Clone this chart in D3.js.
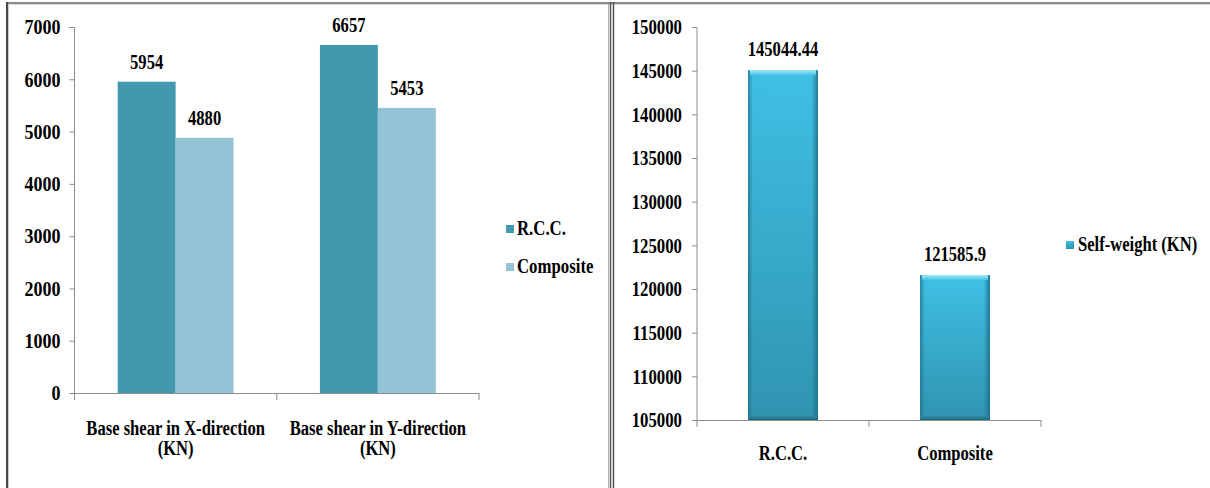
<!DOCTYPE html>
<html><head><meta charset="utf-8">
<script src="https://cdn.jsdelivr.net/npm/d3@7"></script>
<style>
html,body{margin:0;padding:0;background:#fff;}
svg{display:block;}
text{font-family:"Liberation Serif","Times New Roman",serif;font-weight:bold;fill:#000;}
</style></head>
<body>
<svg id="chart" width="1210" height="488"></svg>
<script>
// ---- data ----
const shearCategories = [["Base shear in X-direction","(KN)"],["Base shear in Y-direction","(KN)"]];
const shearSeries = ["R.C.C.","Composite"];
const shearRCC = [5954, 6657];
const shearComposite = [4880, 5453];
const shearTicks = [0,1000,2000,3000,4000,5000,6000,7000];

const weightCategories = ["R.C.C.","Composite"];
const weightValues = [145044.44, 121585.9];
const weightLabels = ["145044.44","121585.9"];
const weightSeries = "Self-weight (KN)";
const weightTicks = [105000,110000,115000,120000,125000,130000,135000,140000,145000,150000];

const svg = d3.select("#chart");
const axisColor = "#8c8c8c";
const FS = 20;

// horizontally squeeze text (narrow Times look) via transform
function squeeze(sel, k){
  sel.each(function(){
    const el = d3.select(this);
    const x = +(el.attr("x") || 0);
    el.attr("x", x/k).attr("transform", "scale(" + k + ",1)");
    el.selectAll("tspan").each(function(){
      const t = d3.select(this);
      const tx = +(t.attr("x") || 0);
      t.attr("x", tx/k);
    });
  });
}

// ---- frames ----
svg.append("line").attr("x1",6).attr("x2",1210).attr("y1",3).attr("y2",3).attr("stroke","#8a8a8a").attr("stroke-width",2);
svg.append("line").attr("x1",6).attr("x2",1210).attr("y1",4.5).attr("y2",4.5).attr("stroke","#dcdcdc").attr("stroke-width",1);
svg.append("line").attr("x1",7).attr("x2",7).attr("y1",2).attr("y2",488).attr("stroke","#4a4a4a").attr("stroke-width",2);
svg.append("line").attr("x1",8.5).attr("x2",8.5).attr("y1",4).attr("y2",488).attr("stroke","#c8c8c8").attr("stroke-width",1);
svg.append("line").attr("x1",608.5).attr("x2",608.5).attr("y1",4).attr("y2",488).attr("stroke","#b0b0b0").attr("stroke-width",1);
svg.append("line").attr("x1",610.5).attr("x2",610.5).attr("y1",2).attr("y2",488).attr("stroke","#505050").attr("stroke-width",1.5);
svg.append("line").attr("x1",613.5).attr("x2",613.5).attr("y1",2).attr("y2",488).attr("stroke","#505050").attr("stroke-width",1.5);

// ---- left chart ----
(function(){
  const y = d3.scaleLinear().domain([0,7000]).range([393,27]);
  const x0 = d3.scaleBand().domain(d3.range(shearCategories.length)).range([74.5,479]).paddingInner(0).paddingOuter(0);
  const x1 = d3.scaleBand().domain(shearSeries).range([0,x0.bandwidth()]).paddingInner(0).paddingOuter(0.745);
  const colors = {"R.C.C.":"#4397ae","Composite":"#94c3d5"};
  const g = svg.append("g");

  // y axis
  const ya = d3.axisLeft(y).tickValues(shearTicks).tickSize(5).tickPadding(9).tickFormat(d3.format("d"));
  const yg = g.append("g").attr("transform","translate(74.5,0)").call(ya);
  yg.select(".domain").attr("stroke",axisColor).attr("d","M-5,27.5H0V393");
  yg.selectAll(".tick line").attr("stroke",axisColor);
  yg.selectAll(".tick text").attr("font-size",FS).attr("dy","0.34em").call(squeeze,0.9);

  // bars
  const rows = [shearRCC, shearComposite];
  shearSeries.forEach((s,si)=>{
    g.append("g").selectAll("rect").data(rows[si]).join("rect")
      .attr("x",(d,i)=>x0(i)+x1(s))
      .attr("width",x1.bandwidth())
      .attr("y",d=>y(d))
      .attr("height",d=>y(0)-y(d))
      .attr("fill",colors[s]);
    g.append("g").selectAll("text").data(rows[si]).join("text")
      .attr("x",(d,i)=>x0(i)+x1(s)+x1.bandwidth()/2)
      .attr("y",d=>y(d)-13)
      .attr("text-anchor","middle").attr("font-size",FS)
      .text(d=>d).call(squeeze,0.83);
  });

  // x axis
  const xg = g.append("g");
  xg.append("line").attr("x1",74.5).attr("x2",479).attr("y1",y(0)+0.5).attr("y2",y(0)+0.5).attr("stroke",axisColor);
  const bounds = d3.range(shearCategories.length+1).map(i=> i<shearCategories.length ? x0(i) : x0(i-1)+x0.bandwidth());
  xg.selectAll("line.tk").data(bounds).join("line").attr("class","tk")
    .attr("x1",d=>d).attr("x2",d=>d).attr("y1",y(0)).attr("y2",y(0)+7).attr("stroke",axisColor);
  shearCategories.forEach((lines,i)=>{
    const t = xg.append("text").attr("text-anchor","middle").attr("font-size",FS);
    lines.forEach((ln,j)=>{
      t.append("tspan").attr("x",x0(i)+x0.bandwidth()/2).attr("y",435+j*20).text(ln);
    });
    t.call(squeeze,0.83);
  });

  // legend
  const lg = g.append("g").attr("transform","translate(506,0)");
  shearSeries.forEach((s,i)=>{
    const cy = 229 + i*38;
    lg.append("rect").attr("x",0).attr("y",cy-4).attr("width",8).attr("height",8).attr("fill",colors[s]);
    lg.append("text").attr("x",11).attr("y",cy+6.5).attr("font-size",FS).text(s).call(squeeze,0.84);
  });
})();

// ---- right chart ----
(function(){
  const y = d3.scaleLinear().domain([105000,150000]).range([420,27]);
  const x = d3.scaleBand().domain(weightCategories).range([697,1041]).paddingInner(0.593).paddingOuter(0.2965);
  const g = svg.append("g");
  const defs = svg.append("defs");
  const vg = defs.append("linearGradient").attr("id","vgrad").attr("x1",0).attr("x2",0).attr("y1",0).attr("y2",1);
  vg.append("stop").attr("offset","0%").attr("stop-color","#3fc0e5");
  vg.append("stop").attr("offset","100%").attr("stop-color","#3094b0");
  const hg = defs.append("linearGradient").attr("id","hgrad").attr("x1",0).attr("x2",1).attr("y1",0).attr("y2",0);
  hg.append("stop").attr("offset","0%").attr("stop-color","#1d6c84").attr("stop-opacity",0.7);
  hg.append("stop").attr("offset","7%").attr("stop-color","#1d6c84").attr("stop-opacity",0);
  hg.append("stop").attr("offset","91%").attr("stop-color","#1d6c84").attr("stop-opacity",0);
  hg.append("stop").attr("offset","100%").attr("stop-color","#1d6c84").attr("stop-opacity",0.85);
  const tg = defs.append("linearGradient").attr("id","tgrad").attr("x1",0).attr("x2",0).attr("y1",0).attr("y2",1);
  tg.append("stop").attr("offset","0%").attr("stop-color","#a8e8f8");
  tg.append("stop").attr("offset","100%").attr("stop-color","#3fc0e5");
  const bg = defs.append("linearGradient").attr("id","bgrad").attr("x1",0).attr("x2",0).attr("y1",0).attr("y2",1);
  bg.append("stop").attr("offset","0%").attr("stop-color","#2a88a2");
  bg.append("stop").attr("offset","100%").attr("stop-color","#1b6177");

  // y axis
  const ya = d3.axisLeft(y).tickValues(weightTicks).tickSize(5).tickPadding(10).tickFormat(d3.format("d"));
  const yg = g.append("g").attr("transform","translate(697,0)").call(ya);
  yg.select(".domain").attr("stroke",axisColor).attr("d","M-5,27.5H0V420");
  yg.selectAll(".tick line").attr("stroke",axisColor);
  yg.selectAll(".tick text").attr("font-size",FS).attr("dy","0.34em").call(squeeze,0.84);

  // bars
  const bars = g.append("g").selectAll("g").data(weightValues).join("g");
  bars.append("rect")
    .attr("x",(d,i)=>x(weightCategories[i])).attr("width",x.bandwidth())
    .attr("y",d=>y(d)).attr("height",d=>y(105000)-y(d)).attr("fill","url(#vgrad)");
  bars.append("rect")
    .attr("x",(d,i)=>x(weightCategories[i])).attr("width",x.bandwidth())
    .attr("y",d=>y(d)).attr("height",d=>y(105000)-y(d)).attr("fill","url(#hgrad)");
  bars.append("rect")
    .attr("x",(d,i)=>x(weightCategories[i])+2).attr("width",x.bandwidth()-4)
    .attr("y",d=>y(d)).attr("height",5).attr("fill","url(#tgrad)");
  bars.append("rect")
    .attr("x",(d,i)=>x(weightCategories[i])).attr("width",x.bandwidth())
    .attr("y",y(105000)-4).attr("height",4).attr("fill","url(#bgrad)").attr("opacity",0.8);

  g.append("g").selectAll("text").data(weightValues).join("text")
    .attr("x",(d,i)=>x(weightCategories[i])+x.bandwidth()/2)
    .attr("y",d=>y(d)-14)
    .attr("text-anchor","middle").attr("font-size",FS)
    .text((d,i)=>weightLabels[i]).call(squeeze,0.83);

  // x axis
  const xg = g.append("g");
  xg.append("line").attr("x1",697).attr("x2",1041).attr("y1",y(105000)+0.5).attr("y2",y(105000)+0.5).attr("stroke",axisColor);
  const step = x.step();
  const bounds = d3.range(weightCategories.length+1).map(i=>697+i*step);
  xg.selectAll("line.tk").data(bounds).join("line").attr("class","tk")
    .attr("x1",d=>d).attr("x2",d=>d).attr("y1",y(105000)).attr("y2",y(105000)+7).attr("stroke",axisColor);
  xg.selectAll("text").data(weightCategories).join("text")
    .attr("x",d=>x(d)+x.bandwidth()/2).attr("y",460)
    .attr("text-anchor","middle").attr("font-size",FS).text(d=>d).call(squeeze,0.83);

  // legend
  const lg = g.append("g");
  lg.append("rect").attr("x",1066).attr("y",241).attr("width",8).attr("height",8).attr("fill","url(#vgrad)");
  lg.append("rect").attr("x",1066).attr("y",241).attr("width",8).attr("height",8).attr("fill","url(#hgrad)");
  lg.append("text").attr("x",1078).attr("y",251.5).attr("font-size",FS).text(weightSeries).call(squeeze,0.83);
})();
</script>
</body></html>
